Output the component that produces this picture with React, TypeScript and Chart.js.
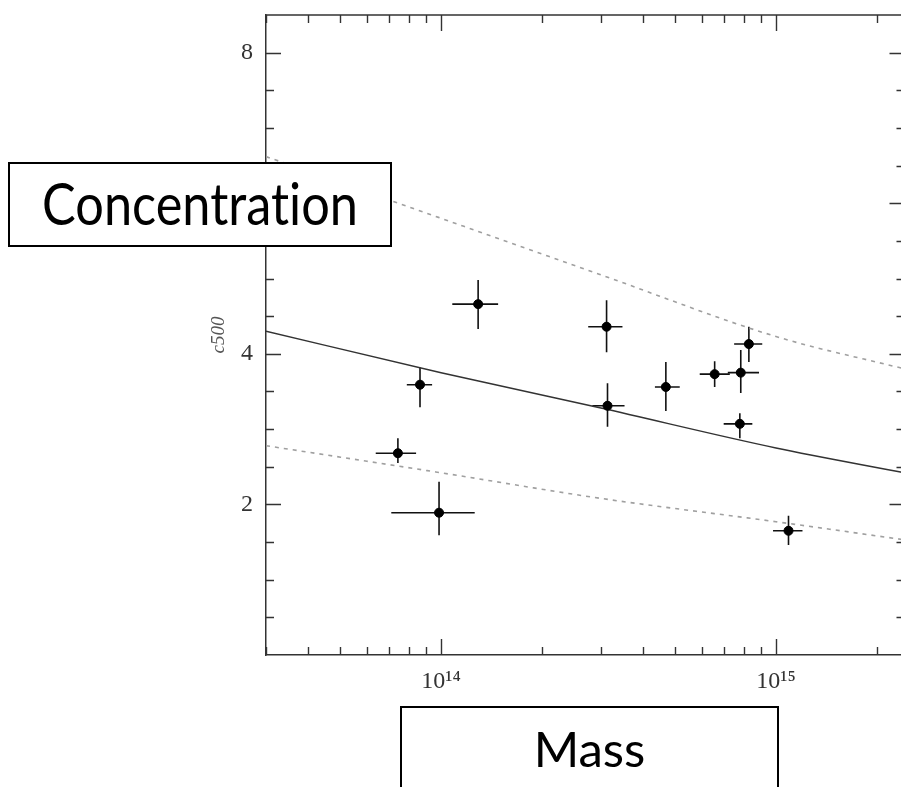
import React, { useEffect, useRef } from 'react';
import { Chart, registerables } from 'chart.js';

Chart.register(...registerables);

// Cluster measurements: mass (M_sun) and concentration c500
const massPts = [1.29e14, 8.65e13, 7.43e13, 9.86e13, 3.12e14, 3.14e14, 4.69e14, 6.56e14, 7.85e14, 8.3e14, 7.8e14, 1.09e15];
const cPts = [4.66, 3.59, 2.68, 1.89, 4.36, 3.31, 3.56, 3.73, 3.75, 4.13, 3.07, 1.65];
const massLo = [1.08e14, 7.9e13, 6.38e13, 7.1e13, 2.75e14, 2.83e14, 4.35e14, 5.92e14, 7.18e14, 7.5e14, 6.98e14, 9.8e14];
const massHi = [1.48e14, 9.4e13, 8.42e13, 1.26e14, 3.48e14, 3.53e14, 5.16e14, 7.28e14, 8.9e14, 9.1e14, 8.5e14, 1.2e15];
const cLo = [4.33, 3.29, 2.55, 1.59, 4.02, 3.03, 3.24, 3.56, 3.48, 3.89, 2.88, 1.46];
const cHi = [4.98, 3.82, 2.88, 2.3, 4.71, 3.61, 3.89, 3.9, 4.05, 4.36, 3.21, 1.85];

// Relation curves (solid: mean; dotted: scatter envelope)
const curveMass = [3e13, 1e14, 3e14, 1e15, 2.42e15];
const fitC = [4.3, 3.75, 3.28, 2.75, 2.42];
const upperC = [6.62, 5.8, 5.05, 4.23, 3.8];
const lowerC = [2.78, 2.42, 2.08, 1.77, 1.53];

// Axes
const xMin = 3e13;
const xMax = 2.42e15;
const yMin = 0;
const yMax = 8.5;
const xAllTicks = [3e13, 4e13, 5e13, 6e13, 7e13, 8e13, 9e13, 1e14, 2e14, 3e14, 4e14, 5e14, 6e14, 7e14, 8e14, 9e14, 1e15, 2e15];
const xMajorTicks = [1e14, 1e15];
const xTickLabels = ['10¹⁴', '10¹⁵'];
const yAllTicks = [0.5, 1, 1.5, 2, 2.5, 3, 3.5, 4, 4.5, 5, 5.5, 6, 6.5, 7, 7.5, 8];
const yMajorTicks = [2, 4, 6, 8];
const yTitle = 'c500';
const xBoxLabel = 'Mass';
const yBoxLabel = 'Concentration';

const CANVAS_W = 910;
const CANVAS_H = 787;
const AREA_RIGHT = 903;

const framePlugin = {
  id: 'frameTicksErrors',
  beforeDatasetsDraw(chart: any) {
    const { ctx } = chart;
    const xs = chart.scales.x;
    const ys = chart.scales.y;
    ctx.save();
    ctx.strokeStyle = '#111';
    ctx.lineWidth = 1.6;
    for (let i = 0; i < massPts.length; i++) {
      const px = xs.getPixelForValue(massPts[i]);
      const py = ys.getPixelForValue(cPts[i]);
      ctx.beginPath();
      ctx.moveTo(xs.getPixelForValue(massLo[i]), py);
      ctx.lineTo(xs.getPixelForValue(massHi[i]), py);
      ctx.moveTo(px, ys.getPixelForValue(cLo[i]));
      ctx.lineTo(px, ys.getPixelForValue(cHi[i]));
      ctx.stroke();
    }
    ctx.restore();
  },
  afterDraw(chart: any) {
    const { ctx, chartArea } = chart;
    const { left, right, top, bottom } = chartArea;
    const xs = chart.scales.x;
    const ys = chart.scales.y;
    ctx.save();
    ctx.strokeStyle = '#333';
    ctx.lineWidth = 1.5;
    ctx.beginPath();
    ctx.moveTo(left, top);
    ctx.lineTo(right, top);
    ctx.lineTo(right, bottom);
    ctx.stroke();
    ctx.lineWidth = 1.4;
    ctx.beginPath();
    for (const v of xAllTicks) {
      const px = Math.round(xs.getPixelForValue(v)) + 0.5;
      const len = xMajorTicks.includes(v) ? 16 : 8;
      ctx.moveTo(px, bottom);
      ctx.lineTo(px, bottom - len);
      ctx.moveTo(px, top);
      ctx.lineTo(px, top + len);
    }
    for (const v of yAllTicks) {
      const py = Math.round(ys.getPixelForValue(v)) + 0.5;
      const len = yMajorTicks.includes(v) ? 15 : 8;
      ctx.moveTo(left, py);
      ctx.lineTo(left + len, py);
      ctx.moveTo(right, py);
      ctx.lineTo(right - len, py);
    }
    ctx.stroke();
    ctx.restore();
  },
};

export default function App() {
  const canvasRef = useRef<HTMLCanvasElement | null>(null);

  useEffect(() => {
    const canvas = canvasRef.current;
    if (!canvas) return;
    const toXY = (xsArr: number[], ysArr: number[]) => xsArr.map((x, i) => ({ x, y: ysArr[i] }));
    const chart = new Chart(canvas, {
      type: 'scatter',
      data: {
        datasets: [
          {
            label: 'clusters',
            data: toXY(massPts, cPts),
            backgroundColor: '#000',
            borderColor: '#000',
            pointRadius: 4.5,
            pointHoverRadius: 4.5,
            order: 0,
          },
          {
            label: 'fit',
            data: toXY(curveMass, fitC),
            showLine: true,
            borderColor: '#333',
            borderWidth: 1.5,
            pointRadius: 0,
            cubicInterpolationMode: 'monotone',
            order: 1,
          },
          {
            label: 'upper',
            data: toXY(curveMass, upperC),
            showLine: true,
            borderColor: '#a0a0a0',
            borderWidth: 1.6,
            borderDash: [4, 5],
            pointRadius: 0,
            cubicInterpolationMode: 'monotone',
            order: 2,
          },
          {
            label: 'lower',
            data: toXY(curveMass, lowerC),
            showLine: true,
            borderColor: '#a0a0a0',
            borderWidth: 1.6,
            borderDash: [4, 5],
            pointRadius: 0,
            cubicInterpolationMode: 'monotone',
            order: 2,
          },
        ],
      },
      options: {
        responsive: false,
        animation: false,
        events: [],
        layout: { padding: { top: 15, right: 2, left: 0, bottom: 0 } },
        plugins: { legend: { display: false }, tooltip: { enabled: false } },
        scales: {
          x: {
            type: 'logarithmic',
            min: xMin,
            max: xMax,
            grid: { display: false, drawTicks: false },
            border: { display: true, color: '#333', width: 1.5 },
            afterBuildTicks: (scale: any) => {
              scale.ticks = xMajorTicks.map((v) => ({ value: v }));
            },
            afterFit: (scale: any) => {
              scale.height = 132;
              scale.paddingLeft = 0;
              scale.paddingRight = 0;
            },
            ticks: {
              autoSkip: false,
              maxRotation: 0,
              padding: 12,
              color: '#333',
              font: { family: '"Liberation Serif", "DejaVu Serif", serif', size: 24 },
              callback: (value: any) => {
                const idx = xMajorTicks.indexOf(Number(value));
                return idx >= 0 ? xTickLabels[idx] : '';
              },
            },
          },
          y: {
            type: 'linear',
            min: yMin,
            max: yMax,
            grid: { display: false, drawTicks: false },
            border: { display: true, color: '#333', width: 1.5 },
            afterBuildTicks: (scale: any) => {
              scale.ticks = yMajorTicks.map((v) => ({ value: v }));
            },
            afterFit: (scale: any) => {
              scale.width = 266;
              scale.paddingTop = 0;
              scale.paddingBottom = 0;
            },
            title: {
              display: true,
              text: yTitle,
              color: '#555',
              font: { family: '"Liberation Serif", "DejaVu Serif", serif', size: 19, style: 'italic' },
              padding: { top: 208, bottom: 0 },
            },
            ticks: {
              padding: 13,
              color: '#333',
              font: { family: '"Liberation Serif", "DejaVu Serif", serif', size: 24 },
            },
          },
        },
      },
      plugins: [
        framePlugin,
        {
          id: 'fixRight',
          afterLayout(chart: any) {
            // keep the plot frame's right edge just past the visible page edge
            const diff = AREA_RIGHT - chart.chartArea.right;
            if (Math.abs(diff) > 0.5 && !chart.$fixedRight) {
              chart.$fixedRight = true;
              chart.options.layout.padding.right = Math.max(0, 2 - diff);
              chart.update();
            }
          },
        },
      ],
    } as any);
    return () => chart.destroy();
  }, []);

  return (
    <div
      style={{
        position: 'fixed',
        left: 0,
        top: 0,
        width: 901,
        height: 787,
        overflow: 'hidden',
        background: '#fff',
      }}
    >
      <canvas
        ref={canvasRef}
        width={CANVAS_W}
        height={CANVAS_H}
        style={{ display: 'block', width: CANVAS_W, height: CANVAS_H }}
      />
      <div
        style={{
          position: 'absolute',
          left: 8,
          top: 162,
          width: 384,
          height: 85,
          boxSizing: 'border-box',
          border: '2px solid #000',
          background: '#fff',
          overflow: 'hidden',
        }}
      >
        <span
          style={{
            position: 'absolute',
            left: 0,
            width: '100%',
            top: 173.6 - 164,
            textAlign: 'center',
            fontFamily: 'Lato, "Open Sans", sans-serif',
            fontSize: 58,
            lineHeight: '58px',
            color: '#000',
            whiteSpace: 'nowrap',
            fontVariantLigatures: 'none',
            fontFeatureSettings: '"liga" 0, "clig" 0',
            transform: 'scaleX(0.87)',
            transformOrigin: 'center',
          }}
        >
          {yBoxLabel}
        </span>
      </div>
      <div
        style={{
          position: 'absolute',
          left: 400,
          top: 706,
          width: 379,
          height: 110,
          boxSizing: 'border-box',
          border: '2px solid #000',
          background: '#fff',
        }}
      >
        <span
          style={{
            position: 'absolute',
            left: 0,
            width: '100%',
            top: 723.5 - 708,
            textAlign: 'center',
            fontFamily: 'Lato, "Open Sans", sans-serif',
            fontSize: 49,
            lineHeight: '49px',
            color: '#000',
            whiteSpace: 'nowrap',
          }}
        >
          {xBoxLabel}
        </span>
      </div>
    </div>
  );
}
